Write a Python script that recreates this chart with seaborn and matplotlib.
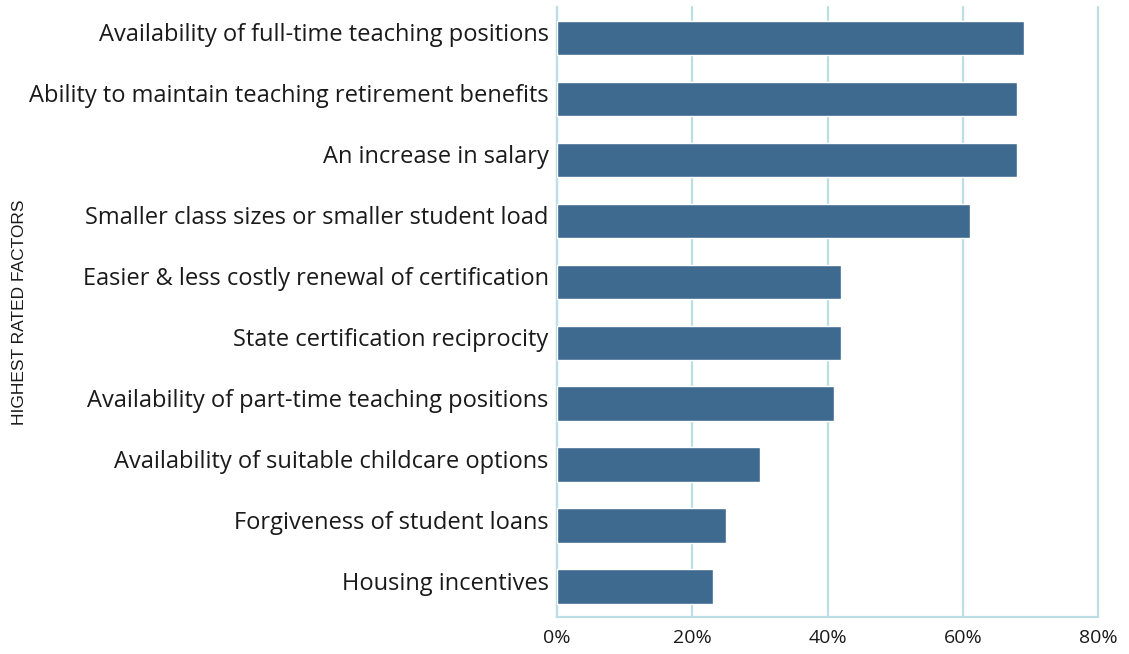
import matplotlib
matplotlib.use("Agg")
import matplotlib.pyplot as plt
import matplotlib.transforms as mtransforms
import seaborn as sns
import pandas as pd
from matplotlib.ticker import PercentFormatter

# factors, top to bottom
factors = [
    "Availability of full-time teaching positions",
    "Ability to maintain teaching retirement benefits",
    "An increase in salary",
    "Smaller class sizes or smaller student load",
    "Easier & less costly renewal of certification",
    "State certification reciprocity",
    "Availability of part-time teaching positions",
    "Availability of suitable childcare options",
    "Forgiveness of student loans",
    "Housing incentives",
]
share = [69, 68, 68, 61, 42, 42, 41, 30, 25, 23]
x_ticks = [0, 20, 40, 60, 80]

BAR = "#3e6a8f"
GRID = "#bddde7"

df = pd.DataFrame({"factor": factors, "share": share})

sns.set_style("white")
plt.rcParams["font.family"] = ["Open Sans", "DejaVu Sans"]

fig = plt.figure(figsize=(11.29, 6.54), dpi=100)
ax = fig.add_axes([0.4934, 0.0566, 0.4792, 0.9324])

sns.barplot(data=df, x="share", y="factor", color=BAR, saturation=1,
            width=0.56, ax=ax, zorder=3)

ax.set_xlim(0, 80)
ax.set_xticks(x_ticks)
ax.xaxis.set_major_formatter(PercentFormatter(decimals=0))
ax.set_ylim(len(factors) - 0.5, -0.5)

ax.grid(axis="x", color=GRID, linewidth=1.6, zorder=0)
ax.grid(axis="y", visible=False)
for gl in ax.get_xgridlines():
    gl.set_clip_on(False)
for side in ["top", "right"]:
    ax.spines[side].set_visible(False)
for side in ["left", "bottom"]:
    ax.spines[side].set_color(GRID)
    ax.spines[side].set_linewidth(1.6)

ax.tick_params(axis="y", length=0, pad=6, labelsize=17, labelcolor="#1a1a1a")
ax.tick_params(axis="x", length=0, pad=9, labelsize=14, labelcolor="#1a1a1a")

# labels sit a little above the bar centres in the original
shift = mtransforms.ScaledTranslation(0, 4 / 72, fig.dpi_scale_trans)
for lab in ax.get_yticklabels():
    lab.set_transform(lab.get_transform() + shift)

ax.set_xlabel("")
ax.set_ylabel("HIGHEST RATED FACTORS", fontsize=12.5, family=["Liberation Sans"],
              color="#1a1a1a")
ax.yaxis.set_label_coords(-0.98, 0.5)

fig.savefig("out.png", dpi=100)
